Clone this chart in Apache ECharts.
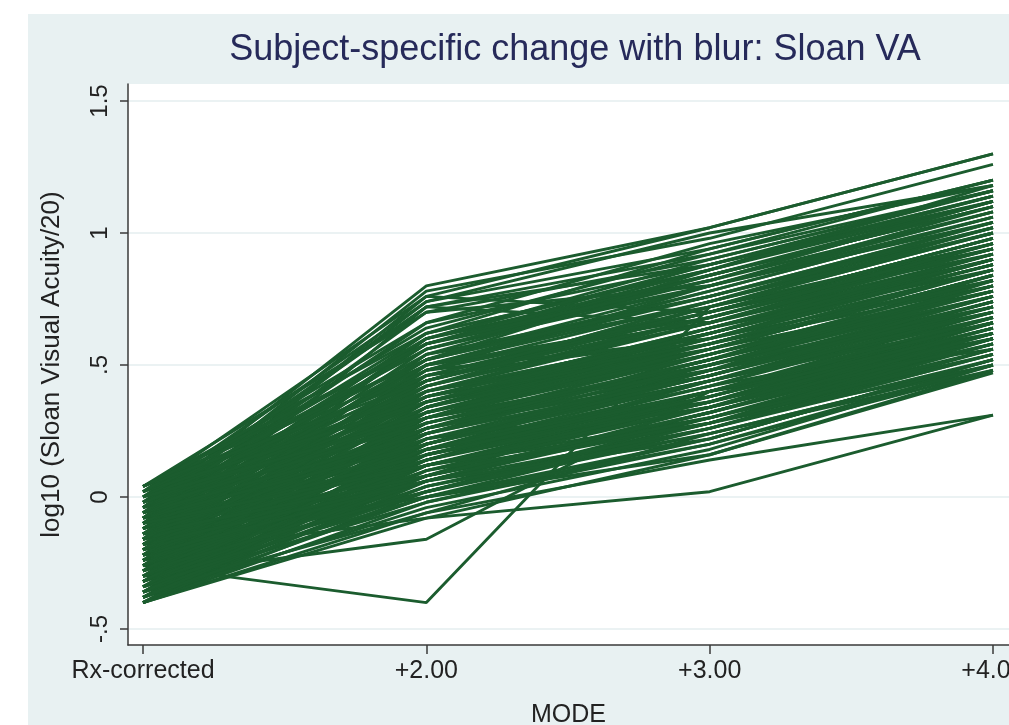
<!DOCTYPE html>
<html>
<head>
<meta charset="utf-8">
<script src="https://cdn.jsdelivr.net/npm/echarts@6/dist/echarts.min.js"></script>
<style>
html,body{margin:0;padding:0;background:#ffffff;overflow:hidden;}
#c{width:1009px;height:725px;}
</style>
</head>
<body>
<div id="c"></div>
<script>
// Modes (x categories)
const modes = ['Rx-corrected', '+2.00', '+3.00', '+4.00'];
// y tick values and their labels
const yTickValues = [-0.5, 0, 0.5, 1, 1.5];
const yTickLabels = ['-.5', '0', '.5', '1', '1.5'];

// Subject values, log10(Sloan VA/20) at each mode (one entry per subject)
const rxCorrected = [
 -0.40,-0.40,-0.40,-0.40,-0.40,
 -0.38,-0.38,-0.38,-0.38,
 -0.36,-0.36,-0.36,-0.36,-0.36,
 -0.34,-0.34,-0.34,-0.34,-0.34,
 -0.32,-0.32,-0.32,-0.32,
 -0.30,-0.30,-0.30,-0.30,-0.30,-0.30,
 -0.28,-0.28,-0.28,-0.28,-0.28,
 -0.26,-0.26,-0.26,-0.26,-0.26,
 -0.24,-0.24,-0.24,-0.24,-0.24,
 -0.22,-0.22,-0.22,-0.22,-0.22,
 -0.20,-0.20,-0.20,-0.20,-0.20,-0.20,
 -0.18,-0.18,-0.18,-0.18,-0.18,
 -0.16,-0.16,-0.16,-0.16,-0.16,
 -0.14,-0.14,-0.14,-0.14,-0.14,
 -0.12,-0.12,-0.12,-0.12,
 -0.10,-0.10,-0.10,-0.10,-0.10,
 -0.08,-0.08,-0.08,-0.08,
 -0.06,-0.06,-0.06,-0.06,
 -0.04,-0.04,-0.04,-0.04,
 -0.02,-0.02,-0.02,
  0.00, 0.00, 0.00,
  0.02, 0.02, 0.02,
  0.04, 0.04,
 -0.40,-0.40,-0.40,
 -0.38,-0.38,-0.38,
 -0.36,-0.36,-0.36,
 -0.34,-0.34,-0.34,
 -0.32,-0.32,-0.32,-0.32,
 -0.30,-0.30,-0.30,
 -0.28,-0.28,-0.28,-0.28,
 -0.26,-0.26,-0.26,-0.26,
 -0.24,-0.24,-0.24,-0.24,
 -0.22,-0.22,-0.22,-0.22,
 -0.20,-0.20,-0.20,-0.20,
 -0.18,-0.18,-0.18,-0.18,-0.18,
 -0.16,-0.16,-0.16,-0.16,
 -0.14,-0.14,-0.14,-0.14,
 -0.12,-0.12,-0.12,-0.12,-0.12,
 -0.10,-0.10,-0.10,-0.10,
 -0.08,-0.08,-0.08,-0.08,-0.08,
 -0.06,-0.06,-0.06,-0.06,
 -0.04,-0.04,-0.04,-0.04,
 -0.02,-0.02,-0.02,-0.02,
  0.00, 0.00, 0.00,
  0.02, 0.02, 0.02,
  0.04, 0.04, 0.04
];
const plus2 = [
 -0.06, 0.02, 0.10, 0.18,-0.02,
  0.04, 0.22, 0.12,-0.04,
 -0.06, 0.08, 0.26, 0.16, 0.00,
  0.12, 0.30, 0.06, 0.20,-0.02,
  0.14, 0.34, 0.04, 0.22,
 -0.16, 0.10, 0.28, 0.40, 0.18, 0.02,
  0.24, 0.08, 0.36, 0.16, 0.46,
 -0.40, 0.20, 0.06, 0.32, 0.50,
  0.12, 0.28, 0.44, 0.22, 0.02,
 -0.08, 0.26, 0.38, 0.14, 0.54,
  0.30, 0.18, 0.42, 0.06, 0.60, 0.34,
  0.24, 0.48, 0.12, 0.36, 0.00,
  0.32, 0.56, 0.20, 0.72, 0.08,
  0.40, 0.26, 0.60, 0.14, 0.46,
  0.34, 0.52, 0.22, 0.62,
  0.76, 0.44, 0.30, 0.18, 0.58,
  0.38, 0.74, 0.50, 0.26,
  0.60, 0.42, 0.78, 0.30,
  0.80, 0.48, 0.62, 0.36,
  0.56, 0.72, 0.44,
  0.64, 0.50, 0.74,
  0.58, 0.76, 0.46,
  0.62, 0.52,
  0.06, 0.14,-0.08,
  0.00, 0.16, 0.08,
  0.04, 0.20, 0.12,
  0.02, 0.16, 0.24,
  0.00, 0.08, 0.18, 0.26,
  0.06, 0.14, 0.32,
  0.02, 0.12, 0.20, 0.30,
  0.10, 0.16, 0.26, 0.40,
  0.08, 0.18, 0.34, 0.50,
  0.06, 0.20, 0.30, 0.44,
  0.12, 0.24, 0.48, 0.38,
  0.06, 0.18, 0.30, 0.42, 0.54,
  0.14, 0.26, 0.44, 0.38,
  0.08, 0.20, 0.34, 0.52,
  0.16, 0.28, 0.44, 0.58, 0.40,
  0.24, 0.36, 0.50, 0.12,
  0.20, 0.32, 0.46, 0.58, 0.70,
  0.24, 0.36, 0.52, 0.66,
  0.28, 0.42, 0.54, 0.72,
  0.32, 0.48, 0.60, 0.38,
  0.40, 0.56, 0.30,
  0.36, 0.52, 0.66,
  0.44, 0.70, 0.58
];
const plus3 = [
  0.24, 0.30, 0.36, 0.42, 0.20,
  0.28, 0.48, 0.34, 0.18,
  0.14, 0.38, 0.52, 0.40, 0.26,
  0.30, 0.56, 0.32, 0.46, 0.22,
  0.44, 0.60, 0.26, 0.36,
  0.40, 0.34, 0.50, 0.62, 0.48, 0.28,
  0.54, 0.30, 0.58, 0.42, 0.70,
  0.72, 0.46, 0.32, 0.60, 0.66,
  0.38, 0.52, 0.72, 0.44, 0.24,
  0.02, 0.56, 0.62, 0.36, 0.76,
  0.50, 0.42, 0.68, 0.30, 0.84, 0.64,
  0.46, 0.74, 0.34, 0.58, 0.16,
  0.54, 0.80, 0.48, 0.88, 0.28,
  0.66, 0.52, 0.82, 0.40, 0.60,
  0.62, 0.78, 0.44, 0.86,
  1.02, 0.70, 0.56, 0.38, 0.84,
  0.64, 0.94, 0.76, 0.48,
  0.90, 0.72, 0.98, 0.54,
  1.02, 0.80, 0.86, 0.60,
  0.82, 0.66, 0.74,
  0.92, 0.78, 1.00,
  0.88, 0.70, 0.72,
  0.94, 0.80,
  0.32, 0.44, 0.16,
  0.22, 0.38, 0.40,
  0.24, 0.44, 0.28,
  0.28, 0.36, 0.50,
  0.20, 0.32, 0.44, 0.46,
  0.22, 0.40, 0.54,
  0.26, 0.36, 0.48, 0.50,
  0.28, 0.40, 0.52, 0.62,
  0.30, 0.34, 0.58, 0.68,
  0.34, 0.46, 0.48, 0.70,
  0.36, 0.52, 0.60, 0.56,
  0.26, 0.40, 0.62, 0.66, 0.72,
  0.38, 0.46, 0.70, 0.64,
  0.32, 0.50, 0.56, 0.76,
  0.40, 0.54, 0.68, 0.80, 0.58,
  0.46, 0.64, 0.74, 0.34,
  0.44, 0.58, 0.70, 0.86, 0.80,
  0.50, 0.62, 0.76, 0.88,
  0.52, 0.66, 0.84, 0.92,
  0.56, 0.70, 0.88, 0.62,
  0.68, 0.84, 0.58,
  0.64, 0.86, 0.96,
  0.74, 0.90, 0.82
];
const plus4 = [
  0.50, 0.58, 0.66, 0.62, 0.48,
  0.54, 0.72, 0.60, 0.50,
  0.31, 0.64, 0.78, 0.70, 0.56,
  0.58, 0.84, 0.60, 0.74, 0.52,
  0.68, 0.90, 0.54, 0.62,
  0.62, 0.66, 0.76, 0.88, 0.70, 0.56,
  0.80, 0.60, 0.86, 0.72, 0.96,
  0.94, 0.74, 0.58, 0.82, 0.92,
  0.64, 0.84, 1.00, 0.68, 0.50,
  0.31, 0.78, 0.90, 0.62, 1.04,
  0.76, 0.70, 0.94, 0.56, 1.10, 0.86,
  0.72, 1.02, 0.60, 0.80, 0.48,
  0.82, 1.08, 0.74, 1.14, 0.58,
  0.90, 0.80, 1.12, 0.66, 0.86,
  0.88, 1.06, 0.70, 1.18,
  1.30, 0.98, 0.84, 0.66, 1.10,
  0.92, 1.20, 1.02, 0.76,
  1.16, 0.96, 1.26, 0.82,
  1.30, 1.04, 1.14, 0.90,
  1.08, 0.94, 1.00,
  1.20, 1.06, 1.18,
  1.16, 0.98, 1.02,
  1.20, 1.10,
  0.60, 0.74, 0.47,
  0.52, 0.68, 0.56,
  0.48, 0.66, 0.60,
  0.50, 0.68, 0.80,
  0.50, 0.62, 0.72, 0.76,
  0.52, 0.60, 0.80,
  0.52, 0.64, 0.70, 0.78,
  0.56, 0.66, 0.76, 0.90,
  0.54, 0.62, 0.86, 0.94,
  0.58, 0.72, 0.82, 0.92,
  0.60, 0.78, 0.88, 0.84,
  0.54, 0.66, 0.88, 0.96, 1.00,
  0.64, 0.76, 0.94, 0.90,
  0.62, 0.72, 0.84, 1.04,
  0.68, 0.78, 0.96, 1.08, 0.82,
  0.74, 0.90, 1.00, 0.64,
  0.70, 0.86, 0.98, 1.12, 1.06,
  0.78, 0.88, 1.02, 1.14,
  0.80, 0.94, 1.10, 1.16,
  0.86, 0.98, 1.12, 0.92,
  0.96, 1.12, 0.86,
  0.92, 1.14, 1.18,
  1.04, 1.16, 1.12
];

const lineColor = '#1b5c2e';
const series = rxCorrected.map((rx, i) => ({
  type: 'line',
  data: [[1, rx], [2, plus2[i]], [3, plus3[i]], [4, plus4[i]]],
  symbol: 'none',
  silent: true,
  lineStyle: { color: lineColor, width: 2.9 },
  z: 3
}));

const chart = echarts.init(document.getElementById('c'), null, { renderer: 'canvas' });
chart.setOption({
  animation: false,
  backgroundColor: '#ffffff',
  graphic: [{
    type: 'rect', left: 28, top: 14, z: -10, silent: true,
    shape: { width: 981, height: 711 },
    style: { fill: '#e8f1f2' }
  }],
  title: {
    text: 'Subject-specific change with blur: Sloan VA',
    left: 570, top: 27, textAlign: 'center',
    textStyle: { fontFamily: 'Liberation Sans', fontSize: 36, fontWeight: 'normal', color: '#262a5a' }
  },
  grid: {
    left: 128, right: 0, top: 84, bottom: 80,
    outerBoundsMode: 'none', containLabel: false,
    show: true, backgroundColor: '#ffffff', borderWidth: 0
  },
  xAxis: {
    type: 'value', min: 0.947, max: 4.0565,
    name: 'MODE', nameLocation: 'middle', nameGap: 58,
    nameTextStyle: { fontFamily: 'Liberation Sans', fontSize: 25, color: '#222222' },
    axisLine: { show: true, onZero: false, lineStyle: { color: '#3a3a3a', width: 1.5 } },
    axisTick: { show: true, length: 9, customValues: [1, 2, 3, 4], lineStyle: { color: '#3a3a3a', width: 1.5 } },
    axisLabel: {
      customValues: [1, 2, 3, 4], margin: 14,
      fontFamily: 'Liberation Sans', fontSize: 25, color: '#222222',
      formatter: v => modes[Math.round(v) - 1]
    },
    splitLine: { show: false }
  },
  yAxis: {
    type: 'value', min: -0.5606, max: 1.5644,
    name: 'log10 (Sloan Visual Acuity/20)', nameLocation: 'middle', nameGap: 63,
    nameTextStyle: { fontFamily: 'Liberation Sans', fontSize: 26, color: '#222222' },
    axisLine: { show: true, onZero: false, lineStyle: { color: '#3a3a3a', width: 1.5 } },
    axisTick: { show: true, length: 8, customValues: yTickValues, lineStyle: { color: '#3a3a3a', width: 1.5 } },
    axisLabel: {
      customValues: yTickValues, rotate: 90, margin: 16,
      fontFamily: 'Liberation Sans', fontSize: 24, color: '#222222',
      formatter: v => yTickLabels[yTickValues.indexOf(v)]
    },
    splitLine: { show: true, lineStyle: { color: '#e4eeef', width: 1.5 } }
  },
  series: series
});
</script>
</body>
</html>
